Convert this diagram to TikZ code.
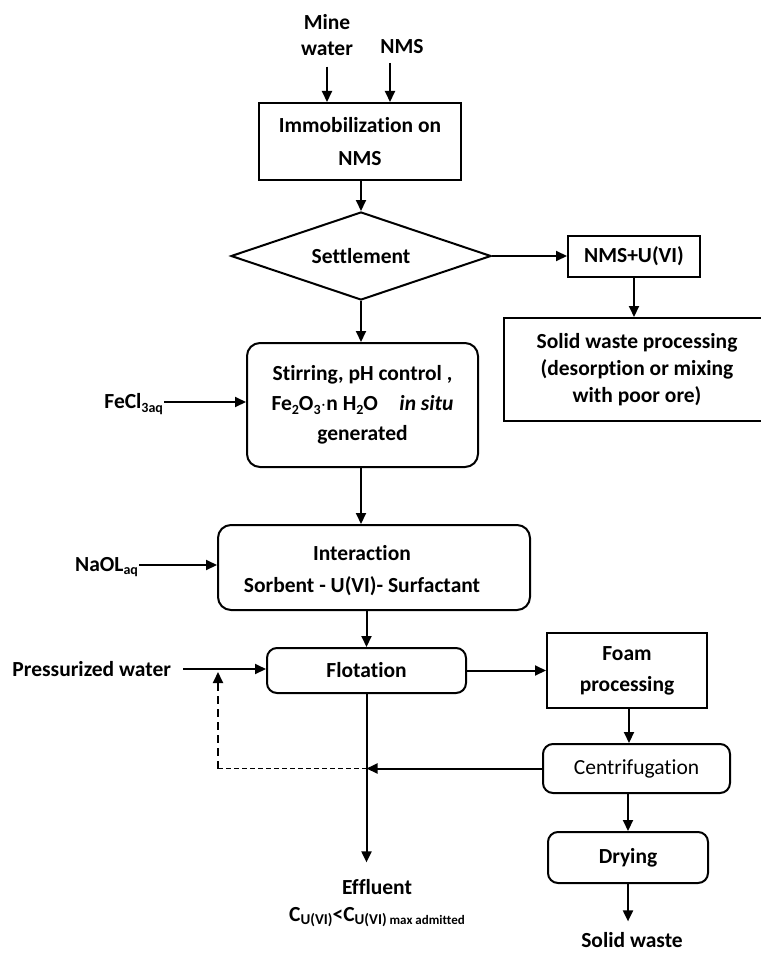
\documentclass[tikz,border=0pt]{standalone}
\usepackage{fontspec}
\setmainfont{Carlito}[Ligatures=NoCommon]
\usetikzlibrary{arrows.meta,shapes.geometric}
\newcommand\subx[2][14]{\raisebox{-3.5pt}{\fontsize{#1}{#1}\selectfont #2}}
\begin{document}
\begin{tikzpicture}[x=1pt,y=-1pt,
  font=\bfseries\fontsize{21.5}{26}\selectfont,
  line width=2pt,
  >={Triangle[length=11pt,width=10pt]},
  box/.style={draw, inner sep=0pt, align=center},
  rbox/.style={box, rounded corners=13pt},
  lbl/.style={align=center, inner sep=0pt},
  thinrec/.style={line width=1.1pt, dash pattern=on 5pt off 3pt},
  thickrec/.style={line width=2pt, dash pattern=on 8pt off 5pt}
]
\useasboundingbox (0,0) rectangle (760,955);

% inputs
\node[lbl] (mw) at (327,35) {Mine\\water};
\node[lbl] (nmsl) at (402,47) {NMS};
\coordinate (nmsA) at (390,63);

% main nodes
\node[box, minimum width=202pt, minimum height=77pt, font=\bfseries\fontsize{21.5}{33}\selectfont] (imm) at (360,141.5) {Immobilization on\\NMS};
\node[draw, diamond, aspect=2.95, inner sep=0pt, minimum width=260pt, minimum height=88pt] (settle) at (361,256) {Settlement};
\node[box, minimum width=132pt, minimum height=41pt] (nmsu) at (634,256) {NMS+U(VI)};
\node[box, minimum width=266pt, minimum height=103pt, font=\bfseries\fontsize{21.5}{27}\selectfont] (swp) at (637,369.5) {Solid waste processing\\(desorption or mixing\\with poor ore)};

\node[rbox, minimum width=231pt, minimum height=124pt, font=\bfseries\fontsize{21.5}{30}\selectfont] (stir) at (362.5,405)
  {Stirring, pH control ,\\Fe\subx{2}O\subx{3}$\cdot$n H\subx{2}O\quad\textit{in situ}\\generated};
\node[lbl, anchor=east] (fecl) at (164,404) {FeCl\subx{3aq}};

\node[rbox, minimum width=312pt, minimum height=85pt] (inter) at (374,567.5) {};
\node[lbl, font=\bfseries\fontsize{21.5}{32}\selectfont] (intert) at (362,571) {Interaction\\Sorbent - U(VI)- Surfactant};
\node[lbl, anchor=east] (naol) at (139,567) {NaOL\subx{aq}};

\node[rbox, rounded corners=10pt, minimum width=199pt, minimum height=45pt] (flot) at (366.5,670.5) {Flotation};
\node[lbl, anchor=east] (pw) at (172,669) {Pressurized water};
\coordinate (pwj) at (218,669);

\node[box, minimum width=160pt, minimum height=75pt, font=\bfseries\fontsize{21.5}{31}\selectfont] (foam) at (627,670.5) {Foam\\processing};
\node[rbox, rounded corners=10pt, minimum width=187pt, minimum height=49pt, font=\mdseries\fontsize{21.5}{26}\selectfont] (cent) at (636.5,768.5) {Centrifugation};
\node[rbox, rounded corners=10pt, minimum width=160pt, minimum height=51pt] (dry) at (628,857.5) {Drying};

\coordinate (j) at (366.5,768.5);
\coordinate (dc) at (218,768.5);

\node[lbl] (eff) at (377,887) {Effluent};
\node[lbl] (cond) at (377,917) {C\subx[15]{U(VI)}<C\subx[15]{U(VI)}\subx[13]{ max admitted}};
\node[lbl] (sw) at (632,940) {Solid waste};

% connectors
\draw[->] ([yshift=-10pt]mw.south) -- (mw.south |- imm.north);
\draw[->] (nmsA) -- (nmsA |- imm.north);
\draw[->] (imm.south -| settle.north) -- (settle.north);
\draw[->] (settle.east) -- (settle.east -| nmsu.west);
\draw[->] (nmsu.south) -- (nmsu.south |- swp.north);
\draw[->] (settle.south) -- (settle.south |- stir.north);
\draw[->] (fecl.east |- 0,402) -- (stir.west |- 0,402);
\draw[->] (stir.south -| settle.south) -- (settle.south |- inter.north);
\draw[->] (naol.east |- 0,565) -- (inter.west |- 0,565);
\draw[->] (inter.south -| flot.north) -- (flot.north);
\draw[->] ([xshift=11pt]pw.east) -- (flot.west |- pw.east);
\draw[->] (flot.east) -- (flot.east -| foam.west);
\draw[->] (foam.south -| 629,0) -- (cent.north -| 629,0);
\draw[->] (cent.west) -- (j);
\draw[->] (cent.south -| dry.north) -- (dry.north);
\draw[->] (flot.south) -- ([yshift=16pt]flot.south |- eff.north);
\draw[->] (dry.south) -- ([yshift=10pt]dry.south |- sw.north);
\draw[thinrec] (j) -- (dc);
\draw[thickrec, ->] (dc) -- ([yshift=-3pt]pwj);
\end{tikzpicture}
\end{document}
